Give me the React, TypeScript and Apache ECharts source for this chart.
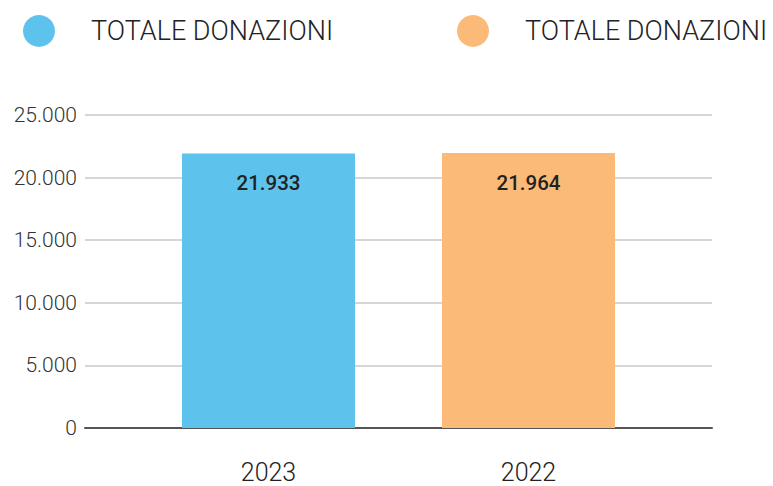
import React, { useEffect, useRef } from "react";
import * as echarts from "echarts";

const categories = ["2023", "2022"];
const seriesNames = ["2023", "2022"];
const values2023 = [21933, "-"];
const values2022 = ["-", 21964];
const legendLabel = "TOTALE DONAZIONI";
const yMax = 25000;
const yInterval = 5000;

const BLUE = "#5EC3EC";
const ORANGE = "#FBBA77";

function fmt(v: number): string {
  return String(Math.round(v)).replace(/\B(?=(\d{3})+(?!\d))/g, ".");
}

export default function App() {
  const ref = useRef<HTMLDivElement>(null);
  useEffect(() => {
    if (!ref.current) return;
    const chart = echarts.init(ref.current, null, { renderer: "svg" });
    const font = "Roboto, 'Liberation Sans', sans-serif";
    const legendText = {
      fontFamily: font,
      fontWeight: 300,
      fontSize: 27,
      color: "#222",
      padding: [0, 0, 0, 31],
    };
    chart.setOption({
      animation: false,
      legend: [
        {
          data: [seriesNames[0]],
          left: 18,
          top: 10,
          icon: "circle",
          itemWidth: 32,
          itemHeight: 32,
          formatter: () => legendLabel,
          textStyle: legendText,
          selectedMode: false,
        },
        {
          data: [seriesNames[1]],
          left: 452,
          top: 10,
          icon: "circle",
          itemWidth: 32,
          itemHeight: 32,
          formatter: () => legendLabel,
          textStyle: legendText,
          selectedMode: false,
        },
      ],
      grid: [
        { left: 85, right: 61, top: 115, bottom: 58, containLabel: false },
        { left: 138.5, right: 114.5, top: 115, bottom: 58, containLabel: false },
      ],
      xAxis: [
        {
          type: "value",
          gridIndex: 0,
          min: 0,
          max: 1,
          axisLine: { show: true, lineStyle: { color: "#555", width: 2 } },
          axisTick: { show: false },
          axisLabel: { show: false },
          splitLine: { show: false },
        },
        {
          type: "category",
          gridIndex: 1,
          data: categories,
          axisLine: { show: false },
          axisTick: { show: false },
          axisLabel: {
            margin: 31,
            fontFamily: font,
            fontWeight: 300,
            fontSize: 25,
            lineHeight: 26,
            color: "#222",
          },
        },
      ],
      yAxis: [
        {
          type: "value",
          gridIndex: 0,
          min: 0,
          max: yMax,
          interval: yInterval,
          axisLine: { show: false },
          axisTick: { show: false },
          axisLabel: {
            margin: 8,
            fontFamily: font,
            fontWeight: 300,
            fontSize: 21,
            color: "#333",
            formatter: (v: number) => fmt(v),
          },
          splitLine: { lineStyle: { color: "#c8c8c8", width: 1.5 } },
        },
        {
          type: "value",
          gridIndex: 1,
          min: 0,
          max: yMax,
          interval: yInterval,
          show: false,
          splitLine: { show: false },
        },
      ],
      series: [
        {
          name: seriesNames[0],
          type: "bar",
          xAxisIndex: 1,
          yAxisIndex: 1,
          data: values2023,
          barWidth: 173,
          barGap: "-100%",
          itemStyle: { color: BLUE },
          label: {
            show: true,
            position: "insideTop",
            distance: 19,
            fontFamily: font,
            fontWeight: 500,
            fontSize: 20.5,
            color: "#222",
            formatter: (p: any) => fmt(p.value),
          },
        },
        {
          name: seriesNames[1],
          type: "bar",
          xAxisIndex: 1,
          yAxisIndex: 1,
          data: values2022,
          barWidth: 173,
          barGap: "-100%",
          itemStyle: { color: ORANGE },
          label: {
            show: true,
            position: "insideTop",
            distance: 19,
            fontFamily: font,
            fontWeight: 500,
            fontSize: 20.5,
            color: "#222",
            formatter: (p: any) => fmt(p.value),
          },
        },
      ],
    });
    return () => chart.dispose();
  }, []);
  return <div ref={ref} style={{ width: 773, height: 486, position: "absolute", left: 0, top: 0 }} />;
}
